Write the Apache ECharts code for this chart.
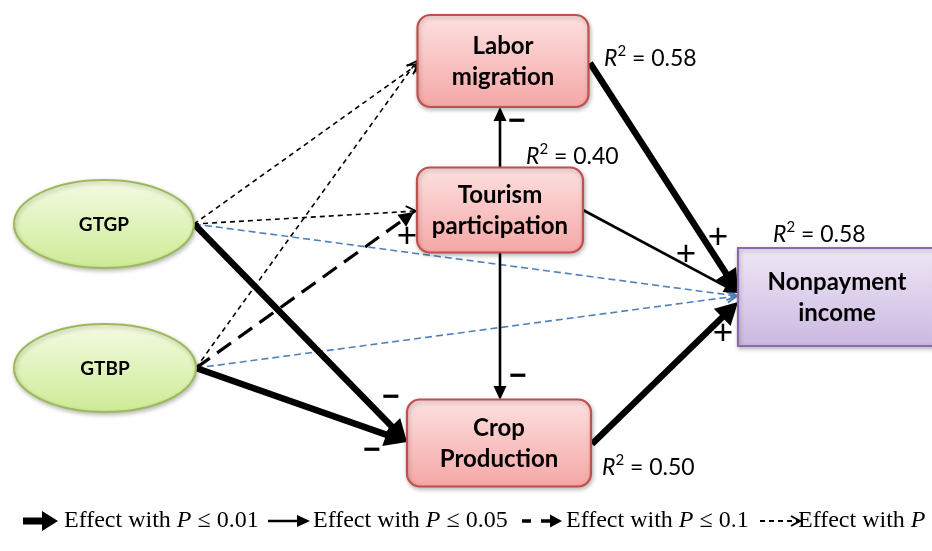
<!DOCTYPE html>
<html><head><meta charset="utf-8">
<script src="https://cdn.jsdelivr.net/npm/echarts@6/dist/echarts.min.js"></script>
<style>html,body{margin:0;padding:0;background:#fff}#c{width:932px;height:551px}</style>
</head><body><div id="c"></div>
<script>
// ---- data ----
const nodeNames = ['GTGP','GTBP','Labor\nmigration','Tourism\nparticipation','Crop\nProduction','Nonpayment\nincome'];
const nodeR2 = [null, null, 0.58, 0.40, 0.50, 0.58];
const pathFrom = [0, 1, 0, 1, 0, 1, 0, 1, 3, 3, 3, 2, 4];
const pathTo   = [2, 2, 3, 3, 5, 5, 4, 4, 2, 4, 5, 5, 5];
const pathP    = ['>0.1','>0.1','>0.1','0.1','>0.1','>0.1','0.01','0.01','0.05','0.05','0.05','0.01','0.01'];
const pathSign = ['', '', '', '+', '', '', '−', '−', '−', '−', '+', '+', '+'];
const legendLevels = ['0.01', '0.05', '0.1', '>0.1'];
const legendText = ['≤ 0.01', '≤ 0.05', '≤ 0.1', '> 0.1'];

// ---- layout (positions / sizes / styles) ----
const L = {
  nodes: [
    {x:104, y:224, w:180, h:88, kind:'green'},
    {x:105, y:368, w:182, h:88, kind:'green'},
    {x:503, y:61,  w:171, h:92, kind:'red'},
    {x:500, y:210, w:166, h:85, kind:'red'},
    {x:499, y:443, w:184, h:87, kind:'red'},
    {x:837, y:297, w:198, h:98, kind:'purple'}
  ],
  edges: [
    {a:[194,224], b:[418,64]},
    {a:[196,368], b:[417,61]},
    {a:[194,224], b:[416,211]},
    {a:[196,368], b:[414,212], s:[407,237]},
    {a:[194,224], b:[737,296], blue:true},
    {a:[196,368], b:[737,296], blue:true},
    {a:[194,224], b:[407,442], s:[391,398]},
    {a:[196,368], b:[407,442], s:[372,451]},
    {a:[500,168], b:[500,107], s:[517,122]},
    {a:[500,253], b:[500,400], s:[518,377]},
    {a:[583,210], b:[738,293], s:[686,255]},
    {a:[590,63],  b:[738,292], s:[718,238]},
    {a:[592,444], b:[738,302], s:[723,334]}
  ],
  r2: [null, null, [604,57], [526,155], [602,466], [773,233]],
  legendArrow: [[23,58],[268,310],[522,562],[760,800]],
  legendTextX: [64, 313, 566, 798],
  legendY: 521
};

const STY = {
  '0.01': {w:6.5, dash:null, head:'fill', len:22, hw:12, color:'#000'},
  '0.05': {w:2.6, dash:null, head:'fill', len:14, hw:6.5, color:'#000'},
  '0.1':  {w:3.2, dash:[17,9], head:'fill', len:15, hw:7.5, color:'#000'},
  '>0.1': {w:1.6, dash:[5,4], head:'open', len:10, hw:5.5, color:'#000'},
  'blue': {w:1.6, dash:[7,4], head:'open', len:10, hw:5.5, color:'#4f81bd'}
};

function arrowEls(a, b, st) {
  const dx = b[0]-a[0], dy = b[1]-a[1];
  const d = Math.sqrt(dx*dx+dy*dy), ux = dx/d, uy = dy/d;
  const px = -uy, py = ux;
  const base = [b[0]-ux*st.len, b[1]-uy*st.len];
  const endLine = st.head === 'fill' ? [b[0]-ux*st.len*0.7, b[1]-uy*st.len*0.7] : b;
  const els = [{
    type:'line', shape:{x1:a[0], y1:a[1], x2:endLine[0], y2:endLine[1]},
    style:{stroke:st.color, lineWidth:st.w, lineDash:st.dash || null, lineCap:'butt'}
  }];
  const p1 = [base[0]+px*st.hw, base[1]+py*st.hw];
  const p2 = [base[0]-px*st.hw, base[1]-py*st.hw];
  if (st.head === 'fill') {
    els.push({type:'polygon', shape:{points:[b, p1, p2]}, style:{fill:st.color}});
  } else {
    els.push({type:'polyline', shape:{points:[p1, b, p2]}, style:{stroke:st.color, lineWidth:st.w+0.2, fill:null}});
  }
  return els;
}

function grad(kind) {
  const G = echarts.graphic.LinearGradient;
  if (kind === 'green') return new G(0,0,0,1,[{offset:0,color:'#f4fbe2'},{offset:1,color:'#cdeb95'}]);
  if (kind === 'red') return new G(0,0,0,1,[{offset:0,color:'#fde1e1'},{offset:1,color:'#f5a6a5'}]);
  return new G(0,0,0,1,[{offset:0,color:'#efe8f6'},{offset:1,color:'#cbb8e0'}]);
}
const STROKE = {green:'#9bbb59', red:'#c0504d', purple:'#8a6bb0'};

function renderNode(params, api) {
  const i = api.value(2);
  const n = L.nodes[i];
  const c = api.coord([api.value(0), api.value(1)]);
  const e = api.coord([n.x + n.w/2, n.y + n.h/2]);
  const hw = Math.abs(e[0]-c[0]), hh = Math.abs(e[1]-c[1]);
  const children = [];
  const shadow = {shadowBlur:4, shadowColor:'rgba(0,0,0,0.25)', shadowOffsetX:1, shadowOffsetY:2};
  if (n.kind === 'green') {
    children.push({type:'ellipse', shape:{cx:c[0], cy:c[1], rx:hw, ry:hh},
      style:Object.assign({fill:grad('green'), stroke:STROKE.green, lineWidth:2}, shadow)});
  } else {
    children.push({type:'rect', shape:{x:c[0]-hw, y:c[1]-hh, width:hw*2, height:hh*2, r:n.kind==='red'?13:0},
      style:Object.assign({fill:grad(n.kind), stroke:STROKE[n.kind], lineWidth:2.2}, shadow)});
  }
  children.push({type:'text', style:{text:nodeNames[i], x:c[0], y:c[1]+1, align:'center', verticalAlign:'middle',
    fontFamily:'Lato', fontWeight:'bold', fontSize:n.kind==='green'?19:24, lineHeight:31, fill:'#000'}});
  if (nodeR2[i] !== null) {
    const p = api.coord(L.r2[i]);
    children.push({type:'text', style:{
      text:'{r|R}{s|2}{n| = ' + nodeR2[i].toFixed(2) + '}', x:p[0], y:p[1], align:'left', verticalAlign:'middle',
      rich:{
        r:{fontFamily:'Lato', fontStyle:'italic', fontSize:23, lineHeight:26, fill:'#000', verticalAlign:'bottom'},
        s:{fontFamily:'Lato', fontSize:15, lineHeight:26, fill:'#000', verticalAlign:'top'},
        n:{fontFamily:'Lato', fontSize:23, lineHeight:26, fill:'#000', verticalAlign:'bottom'}
      }}});
  }
  return {type:'group', children};
}

function renderEdge(params, api) {
  const i = api.value(2);
  const ed = L.edges[i];
  const a = api.coord(ed.a), b = api.coord(ed.b);
  const st = ed.blue ? STY.blue : STY[pathP[i]];
  const children = arrowEls(a, b, st);
  if (pathSign[i] && ed.s) {
    const p = api.coord(ed.s);
    const plus = pathSign[i] === '+';
    children.push({type:'text', z2:5, style:{text:pathSign[i], x:p[0], y:p[1], align:'center', verticalAlign:'middle',
      fontFamily:'Liberation Sans', fontWeight:plus?'normal':'bold', fontSize:plus?35:30, fill:'#000'}});
  }
  return {type:'group', children};
}

// legend graphics
const legendGraphics = [];
legendLevels.forEach((lv, k) => {
  const [x0, x1] = L.legendArrow[k];
  const y = L.legendY;
  let st;
  if (lv === '0.01') st = {w:7, dash:null, head:'fill', len:16, hw:10, color:'#000'};
  else if (lv === '0.05') st = {w:2.6, dash:null, head:'fill', len:13, hw:6, color:'#000'};
  else if (lv === '0.1') st = {w:3.5, dash:[9,10], head:'fill', len:12, hw:6.5, color:'#000'};
  else st = {w:1.8, dash:[5,4], head:'open', len:9, hw:5, color:'#000'};
  arrowEls([x0, y], [x1, y], st).forEach(el => { legendGraphics.push(Object.assign({}, el)); });
  legendGraphics.push({type:'text', x:L.legendTextX[k], y:y, style:{
    text:'{t|Effect with }{p|P}{t| ' + legendText[k] + '}', verticalAlign:'middle', align:'left',
    rich:{
      t:{fontFamily:'Liberation Serif', fontSize:24, fill:'#000'},
      p:{fontFamily:'Liberation Serif', fontStyle:'italic', fontSize:24, fill:'#000'}
    }}});
});

const chart = echarts.init(document.getElementById('c'), null, {renderer:'canvas'});
chart.setOption({
  animation:false,
  backgroundColor:'#ffffff',
  grid:{left:0, right:0, top:0, bottom:0},
  xAxis:{type:'value', min:0, max:932, show:false},
  yAxis:{type:'value', min:0, max:551, inverse:true, show:false},
  graphic: legendGraphics,
  series:[
    {type:'custom', renderItem:renderEdge, clip:false, z:1,
     data: pathFrom.map((f, i) => [L.edges[i].a[0], L.edges[i].a[1], i, f, pathTo[i]])},
    {type:'custom', renderItem:renderNode, clip:false, z:2,
     data: nodeNames.map((n, i) => [L.nodes[i].x, L.nodes[i].y, i])}
  ]
});
</script></body></html>
